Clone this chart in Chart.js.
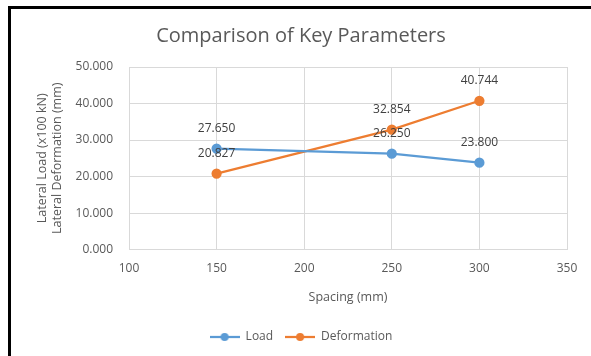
<!DOCTYPE html>
<html>
<head>
<meta charset="utf-8">
<script src="https://cdn.jsdelivr.net/npm/chart.js@4.4.1/dist/chart.umd.min.js"></script>
<style>
  html, body { margin: 0; padding: 0; background: #fff; }
  #wrap { width: 591px; height: 356px; position: relative; }
</style>
</head>
<body>
<div id="wrap"><canvas id="chart" width="591" height="356"></canvas></div>
<script>
// Spacing values (mm) along the x axis
const spacing = [150, 250, 300];
// Lateral load (x100 kN)
const loadValues = [27.650, 26.250, 23.800];
// Lateral deformation (mm)
const deformationValues = [20.827, 32.854, 40.744];
const seriesNames = ['Load', 'Deformation'];
const xTicks = [100, 150, 200, 250, 300, 350];
const yTicks = [0, 10, 20, 30, 40, 50];

const BLUE = '#5b9bd5';
const ORANGE = '#ed7d31';
const TEXT = '#595959';
const FONT = '"Open Sans", "Noto Sans", sans-serif';

// Small legend swatch: a line segment with a round marker in the middle
function swatch(color) {
  const c = document.createElement('canvas');
  c.width = 30; c.height = 10;
  const g = c.getContext('2d');
  g.strokeStyle = color; g.lineWidth = 2.25;
  g.beginPath(); g.moveTo(0, 5); g.lineTo(30, 5); g.stroke();
  g.fillStyle = color;
  g.beginPath(); g.arc(15, 5, 4, 0, Math.PI * 2); g.fill();
  return c;
}

// Value labels drawn just above each point
const valueLabels = {
  id: 'valueLabels',
  afterDatasetsDraw(chart) {
    const ctx = chart.ctx;
    ctx.save();
    ctx.font = '12px ' + FONT;
    ctx.fillStyle = '#404040';
    ctx.textAlign = 'center';
    ctx.textBaseline = 'middle';
    chart.data.datasets.forEach((ds, di) => {
      const meta = chart.getDatasetMeta(di);
      meta.data.forEach((pt, i) => {
        ctx.fillText(ds.data[i].y.toFixed(3), pt.x, pt.y - 20);
      });
    });
    ctx.restore();
  }
};

// Dark frame along the top and left edges
const frame = {
  id: 'frame',
  afterDraw(chart) {
    const ctx = chart.ctx;
    ctx.save();
    ctx.fillStyle = '#000';
    ctx.fillRect(8, 6, chart.width - 8, 3);
    ctx.fillRect(8, 6, 3, chart.height - 6);
    ctx.restore();
  }
};

const toPoints = vals => spacing.map((x, i) => ({ x, y: vals[i] }));

new Chart(document.getElementById('chart'), {
  type: 'line',
  data: {
    datasets: [
      {
        label: seriesNames[0],
        data: toPoints(loadValues),
        borderColor: BLUE, backgroundColor: BLUE,
        borderWidth: 2.25, pointRadius: 4, pointHoverRadius: 4,
        pointBackgroundColor: BLUE, pointBorderColor: BLUE
      },
      {
        label: seriesNames[1],
        data: toPoints(deformationValues),
        borderColor: ORANGE, backgroundColor: ORANGE,
        borderWidth: 2.25, pointRadius: 4, pointHoverRadius: 4,
        pointBackgroundColor: ORANGE, pointBorderColor: ORANGE
      }
    ]
  },
  options: {
    responsive: false,
    animation: false,
    layout: { padding: { left: 35, right: 24, top: 8, bottom: 3 } },
    plugins: {
      tooltip: { enabled: false },
      title: {
        display: true,
        text: 'Comparison of Key Parameters',
        color: TEXT,
        font: { family: FONT, size: 20, weight: 'normal' },
        padding: { top: 16, bottom: 19 }
      },
      legend: {
        position: 'bottom',
        labels: {
          color: TEXT,
          font: { family: FONT, size: 12 },
          usePointStyle: true,
          pointStyleWidth: 30,
          boxHeight: 10,
          padding: 12,
          generateLabels(chart) {
            return chart.data.datasets.map((ds, i) => ({
              text: ds.label,
              fillStyle: ds.borderColor,
              strokeStyle: ds.borderColor,
              pointStyle: swatch(ds.borderColor),
              fontColor: TEXT,
              hidden: false,
              datasetIndex: i
            }));
          }
        }
      }
    },
    scales: {
      x: {
        type: 'linear',
        min: xTicks[0], max: xTicks[xTicks.length - 1],
        afterBuildTicks(scale) { scale.ticks = xTicks.map(v => ({ value: v })); },
        ticks: { color: TEXT, font: { family: FONT, size: 12 }, padding: 12 },
        grid: { color: '#d9d9d9', drawTicks: false },
        border: { color: '#d9d9d9' },
        title: {
          display: true, text: 'Spacing (mm)', color: TEXT,
          font: { family: FONT, size: 12.5 }, padding: { top: 2, bottom: 14 }
        }
      },
      y: {
        min: yTicks[0], max: yTicks[yTicks.length - 1],
        afterBuildTicks(scale) { scale.ticks = yTicks.map(v => ({ value: v })); },
        afterFit(scale) { scale.width = 94; },
        ticks: {
          color: TEXT, font: { family: FONT, size: 12 }, padding: 16,
          callback: v => Number(v).toFixed(3)
        },
        grid: { color: '#d9d9d9', drawTicks: false },
        border: { color: '#d9d9d9' },
        title: {
          display: true,
          text: ['Lateral Load (x100 kN)', 'Lateral Deformation (mm)'],
          color: TEXT,
          font: { family: FONT, size: 12.5, lineHeight: 1.2 },
          padding: 0
        }
      }
    }
  },
  plugins: [valueLabels, frame]
});
</script>
</body>
</html>
